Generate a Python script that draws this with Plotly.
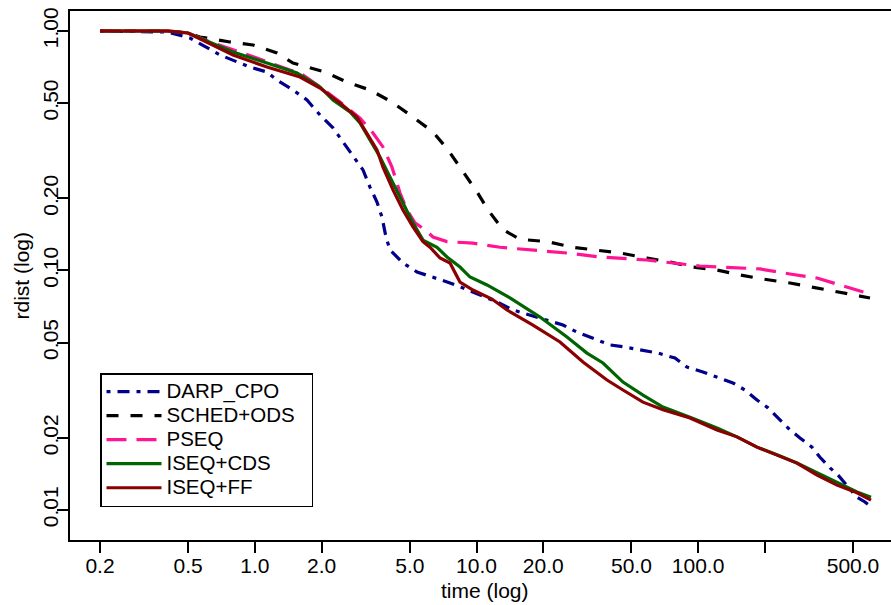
import plotly.graph_objects as go

# ---- data ----
darp_t = [0.2, 0.405, 0.509, 0.696, 0.95, 1.134, 1.258, 1.486, 1.718, 1.967, 2.251, 2.498, 2.743,
          3.075, 3.306, 3.556, 3.745, 3.904, 4.069, 4.287, 4.658, 5.388, 6.362, 7.592, 8.69, 12.37,
          14.61, 17.43, 20.8, 24.56, 28.41, 33.54, 40.03, 46.77, 54.67, 65.91, 78.64, 89.1, 105.2,
          122.9, 143.7, 162.8, 184.4, 206.7, 234.2, 259.8, 288.2, 326.5, 354.8, 393.7, 427.8, 469.7,
          521.2, 566.3, 596.6]
darp_r = [1.0, 0.990, 0.935, 0.794, 0.707, 0.674, 0.624, 0.567, 0.515, 0.446, 0.394, 0.344, 0.303,
          0.263, 0.223, 0.193, 0.167, 0.138, 0.122, 0.116, 0.1075, 0.0986, 0.0939, 0.0887, 0.0845,
          0.0739, 0.0684, 0.0652, 0.0621, 0.0592, 0.0553, 0.0523, 0.0489, 0.0479, 0.0466, 0.0452,
          0.0431, 0.0395, 0.0377, 0.0359, 0.0339, 0.0317, 0.0288, 0.0267, 0.0237, 0.0216, 0.0200,
          0.0183, 0.0166, 0.0150, 0.0140, 0.0127, 0.0113, 0.0108, 0.0104]

sched_t = [0.2, 0.405, 0.499, 0.565, 0.772, 0.98, 1.258, 1.486, 2.072, 2.604, 3.306, 4.155, 5.169,
           6.362, 7.435, 8.69, 10.05, 11.27, 13.17, 15.71, 20.8, 27.25, 34.97, 44.41, 58.8, 74.66,
           94.83, 121.7, 154.5, 196.3, 259.8, 329.9, 423.4, 537.7, 596.6]
sched_r = [1.0, 1.0, 0.981, 0.944, 0.900, 0.874, 0.809, 0.735, 0.674, 0.612, 0.567, 0.505, 0.437,
           0.379, 0.319, 0.258, 0.213, 0.179, 0.148, 0.135, 0.132, 0.125, 0.1218, 0.1183, 0.1128,
           0.1085, 0.1034, 0.1005, 0.0958, 0.0921, 0.0887, 0.0853, 0.0813, 0.0782, 0.0768]

pseq_t = [0.2, 0.405, 0.499, 0.647, 0.857, 1.134, 1.44, 1.598, 1.967, 2.421, 2.981, 3.411, 3.784,
          4.155, 4.515, 4.857, 5.277, 5.855, 6.362, 7.358, 9.641, 12.76, 17.98, 25.6, 36.07, 58.8,
          102.0, 190.2, 259.8, 344.0, 450.6, 596.6]
pseq_r = [1.0, 1.0, 0.981, 0.891, 0.817, 0.742, 0.687, 0.668, 0.584, 0.505, 0.433, 0.375, 0.328,
          0.270, 0.211, 0.179, 0.158, 0.148, 0.138, 0.132, 0.130, 0.125, 0.1218, 0.1183, 0.1139,
          0.1106, 0.1044, 0.1015, 0.0967, 0.0930, 0.0862, 0.0798]

cds_t = [0.2, 0.405, 0.499, 0.608, 0.797, 1.134, 1.549, 1.967, 2.251, 2.686, 2.981, 3.668, 4.515,
         5.169, 5.735, 6.632, 7.358, 8.423, 9.346, 11.15, 14.16, 19.34, 25.6, 31.51, 37.22, 45.81,
         56.4, 69.43, 91.91, 121.7, 149.8, 184.4, 227.0, 279.4, 344.0, 423.4, 521.2, 602.8]
cds_r = [1.0, 1.0, 0.981, 0.909, 0.817, 0.735, 0.668, 0.584, 0.515, 0.459, 0.413, 0.298, 0.203,
         0.158, 0.134, 0.125, 0.1139, 0.1034, 0.0939, 0.0870, 0.0768, 0.0639, 0.0528, 0.0452,
         0.0411, 0.0342, 0.0302, 0.0269, 0.0244, 0.0220, 0.0202, 0.0183, 0.0170, 0.0157, 0.0143,
         0.0130, 0.0119, 0.0113]

ff_t = [0.2, 0.405, 0.499, 0.608, 0.797, 1.134, 1.598, 1.967, 2.421, 2.888, 3.205, 3.556, 3.784,
        4.199, 4.658, 5.169, 5.735, 6.167, 6.843, 7.592, 8.423, 9.641, 11.74, 13.73, 17.98, 23.81,
        30.23, 38.8, 45.81, 56.4, 69.43, 91.91, 121.7, 149.8, 184.4, 227.0, 279.4, 344.0, 423.4,
        521.2, 602.8]
ff_r = [1.0, 1.0, 0.981, 0.900, 0.794, 0.707, 0.642, 0.578, 0.500, 0.437, 0.375, 0.319, 0.270,
        0.217, 0.179, 0.152, 0.132, 0.125, 0.1128, 0.1075, 0.0895, 0.0829, 0.0760, 0.0684, 0.0592,
        0.0503, 0.0415, 0.0349, 0.0317, 0.0282, 0.0262, 0.0242, 0.0216, 0.0202, 0.0183, 0.0170,
        0.0157, 0.0140, 0.0127, 0.0118, 0.0110]

series_names = ["DARP_CPO", "SCHED+ODS", "PSEQ", "ISEQ+CDS", "ISEQ+FF"]

x_tickvals = [0.2, 0.5, 1, 2, 5, 10, 20, 50, 100, 200, 500]
x_ticktext = ["0.2", "0.5", "1.0", "2.0", "5.0", "10.0", "20.0", "50.0", "100.0", "", "500.0"]
y_tickvals = [0.01, 0.02, 0.05, 0.1, 0.2, 0.5, 1.0]
y_ticktext = ["0.01", "0.02", "0.05", "0.10", "0.20", "0.50", "1.00"]

# ---- styles ----
FONT = "Liberation Sans, Arial, Helvetica, sans-serif"
FS = 21
LEG_FS = 20.5
styles = [
    dict(color="#00008B", dash="4px,7px,12px,7px"),
    dict(color="#000000", dash="12px,12px"),
    dict(color="#FF1493", dash="20px,10px"),
    dict(color="#006400", dash="solid"),
    dict(color="#8B0000", dash="solid"),
]
data = [(darp_t, darp_r), (sched_t, sched_r), (pseq_t, pseq_r), (cds_t, cds_r), (ff_t, ff_r)]

fig = go.Figure()
for (tx, ry), name, st in zip(data, series_names, styles):
    label = "<span style='font-size:%spx'>%s\u00a0\u00a0</span>" % (LEG_FS, name)
    fig.add_trace(go.Scatter(x=tx, y=ry, mode="lines", name=label,
                             line=dict(color=st["color"], dash=st["dash"], width=3.2)))

W, H = 891, 605
L, R, T, B = 70, 0, 11, 65
PW, PH = W - L - R, H - T - B
fig.update_layout(
    width=W, height=H,
    margin=dict(l=L, r=R, t=T, b=B, pad=0),
    paper_bgcolor="white", plot_bgcolor="white",
    font=dict(family=FONT, size=FS, color="black"),
    showlegend=True,
    legend=dict(x=(100 - L) / PW, y=(540 - 373) / PH,
                xanchor="left", yanchor="top",
                bgcolor="white", bordercolor="black", borderwidth=1.5,
                font=dict(family=FONT, size=16.2, color="black"),
                tracegroupgap=0, itemwidth=55),
    xaxis=dict(type="log", range=[-0.8344, 2.8705],
               tickvals=x_tickvals, ticktext=x_ticktext,
               ticks="outside", ticklen=11, tickwidth=1.5, tickcolor="black",
               ticklabelstandoff=-5,
               showline=True, linecolor="black", linewidth=1.5, mirror=True,
               showgrid=False, zeroline=False,
               tickfont=dict(family=FONT, size=FS, color="black")),
    yaxis=dict(type="log", range=[-2.1253, 0.0835],
               tickvals=y_tickvals, ticktext=y_ticktext, tickangle=-90,
               ticks="outside", ticklen=11, tickwidth=1.5, tickcolor="black",
               ticklabelstandoff=-9,
               showline=True, linecolor="black", linewidth=1.5, mirror=False,
               showgrid=False, zeroline=False,
               tickfont=dict(family=FONT, size=FS, color="black")),
    annotations=[
        dict(text="time (log)", xref="paper", yref="paper",
             x=(485 - L) / PW, y=(540 - 590) / PH,
             xanchor="center", yanchor="middle", showarrow=False,
             font=dict(family=FONT, size=FS, color="black")),
        dict(text="rdist (log)", xref="paper", yref="paper",
             x=(21 - L) / PW, y=0.5, textangle=-90,
             xanchor="center", yanchor="middle", showarrow=False,
             font=dict(family=FONT, size=FS, color="black")),
    ],
)

fig.write_html("out.html", config={"displayModeBar": False},
               post_script="document.body.style.margin='0';document.body.style.overflow='hidden';")
